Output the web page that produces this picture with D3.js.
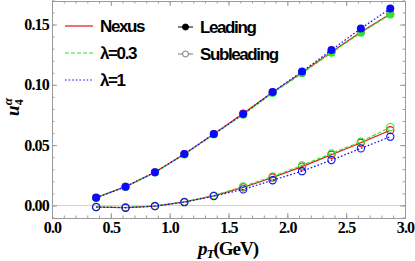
<!DOCTYPE html>
<html><head><meta charset="utf-8">
<script src="https://cdn.jsdelivr.net/npm/d3@7"></script>
<style>
body{margin:0;background:#fff;}
svg{display:block;}
.tick text{font-family:"Liberation Serif",serif;font-weight:bold;font-size:16px;letter-spacing:-0.8px;fill:#000;}
.leg{font-family:"Liberation Sans",sans-serif;font-weight:bold;font-size:17px;letter-spacing:-1.4px;}
</style></head>
<body><svg id="c" width="415" height="261"></svg>
<script>
const pt = [0.375,0.625,0.875,1.125,1.375,1.625,1.875,2.125,2.375,2.625,2.875];
const nexusLead = [0.0065,0.0156,0.0275,0.0426,0.0592,0.0762,0.0938,0.1102,0.1272,0.1437,0.1588];
const lam03Lead = [0.0064,0.0155,0.0273,0.0423,0.0589,0.0753,0.0932,0.1095,0.1266,0.1432,0.1584];
const lam1Lead  = [0.0064,0.0155,0.0275,0.0427,0.0592,0.0758,0.0940,0.1110,0.1288,0.1467,0.1633];
const nexusSub = [-0.0013,-0.0018,-0.0005,0.0030,0.0080,0.0150,0.0232,0.0322,0.0420,0.0520,0.0624];
const lam03Sub = [-0.0012,-0.0017,-0.0004,0.0030,0.0082,0.0157,0.0240,0.0332,0.0431,0.0528,0.0649];
const lam1Sub  = [-0.0014,-0.0019,-0.0006,0.0027,0.0077,0.0133,0.0209,0.0284,0.0376,0.0473,0.0570];
const xTicks = [0,0.5,1,1.5,2,2.5,3];
const yTicks = [0,0.05,0.10,0.15];
const seriesNames = ["Nexus","λ=0.3","λ=1"];

const series = [
  {name:seriesNames[0], lead:nexusLead, sub:nexusSub, color:"#e81010", dash:null},
  {name:seriesNames[1], lead:lam03Lead, sub:lam03Sub, color:"#2ee62e", dash:"4,2"},
  {name:seriesNames[2], lead:lam1Lead, sub:lam1Sub, color:"#0a0aff", dash:"1.6,2"}
];

const svg = d3.select("#c");
const L=52, R=405, T=1, B=218;
const x = d3.scaleLinear().domain([0,3]).range([L,R]);
const y = d3.scaleLinear().domain([-0.0104,0.1695]).range([B,T]);
const frameCol = "#9a9a9a";

svg.append("line").attr("x1",L).attr("x2",R).attr("y1",y(0)).attr("y2",y(0))
  .attr("stroke","#d0d0d0").attr("stroke-width",1);

function styleAxis(g){
  g.select(".domain").attr("stroke",frameCol);
  g.selectAll(".tick line").attr("stroke",frameCol);
}
const xMinor = d3.range(0,3.0001,0.1);
const yMinor = d3.range(-0.01,0.1701,0.01);

svg.append("g").attr("transform",`translate(0,${B})`).call(d3.axisBottom(x).tickValues(xMinor).tickSize(-2.5).tickFormat("")).call(styleAxis);
svg.append("g").attr("transform",`translate(0,${T})`).call(d3.axisTop(x).tickValues(xMinor).tickSize(-2.5).tickFormat("")).call(styleAxis);
svg.append("g").attr("transform",`translate(${L},0)`).call(d3.axisLeft(y).tickValues(yMinor).tickSize(-2.5).tickFormat("")).call(styleAxis);
svg.append("g").attr("transform",`translate(${R},0)`).call(d3.axisRight(y).tickValues(yMinor).tickSize(-2.5).tickFormat("")).call(styleAxis);
svg.append("g").attr("transform",`translate(0,${B})`).call(d3.axisBottom(x).tickValues(xTicks).tickSize(-5).tickPadding(4).tickFormat(d3.format(".1f"))).call(styleAxis);
svg.append("g").attr("transform",`translate(0,${T})`).call(d3.axisTop(x).tickValues(xTicks).tickSize(-5).tickFormat("")).call(styleAxis);
svg.append("g").attr("transform",`translate(${L},0)`).call(d3.axisLeft(y).tickValues(yTicks).tickSize(-5).tickPadding(3).tickFormat(d3.format(".2f"))).call(styleAxis);
svg.append("g").attr("transform",`translate(${R},0)`).call(d3.axisRight(y).tickValues(yTicks).tickSize(-5).tickFormat("")).call(styleAxis);

const line = d3.line().x((d,i)=>x(pt[i])).y(d=>y(d));
series.forEach(s=>{
  ["lead","sub"].forEach(k=>{
    svg.append("path").datum(s[k]).attr("d",line).attr("fill","none")
      .attr("stroke",s.color).attr("stroke-width",1.2).attr("stroke-dasharray",s.dash);
  });
  svg.append("g").selectAll("circle").data(s.lead).join("circle")
    .attr("cx",(d,i)=>x(pt[i])).attr("cy",d=>y(d)).attr("r",4).attr("fill",s.color);
  svg.append("g").selectAll("circle").data(s.sub).join("circle")
    .attr("cx",(d,i)=>x(pt[i])).attr("cy",d=>y(d)).attr("r",3.6).attr("fill","none")
    .attr("stroke",s.color).attr("stroke-width",1.1);
});

const legY = [26,53,80];
series.forEach((s,i)=>{
  svg.append("line").attr("x1",65).attr("x2",93).attr("y1",legY[i]).attr("y2",legY[i])
    .attr("stroke",s.color).attr("stroke-width",1.2).attr("stroke-dasharray",s.dash);
  svg.append("text").attr("class","leg").attr("x",100).attr("y",legY[i]).attr("dy","0.36em").text(s.name);
});
const mk = [{t:"Leading",c:"#000",fill:true},{t:"Subleading",c:"#777",fill:false}];
mk.forEach((m,i)=>{
  const yy = legY[i]+1;
  svg.append("line").attr("x1",178).attr("x2",193).attr("y1",yy).attr("y2",yy).attr("stroke",m.c).attr("stroke-width",1);
  svg.append("circle").attr("cx",185.5).attr("cy",yy).attr("r",3)
    .attr("fill",m.fill?m.c:"#fff").attr("stroke",m.c).attr("stroke-width",1);
  svg.append("text").attr("class","leg").attr("x",200).attr("y",yy).attr("dy","0.36em").text(m.t);
});

const xl = svg.append("text").attr("x",228).attr("y",255).attr("text-anchor","middle")
  .style("font-family","Liberation Serif,serif").style("font-weight","bold").style("font-size","19px").style("letter-spacing","-1px");
xl.append("tspan").style("font-style","italic").text("p");
xl.append("tspan").style("font-style","italic").style("font-size","13px").attr("dy",3).text("T");
xl.append("tspan").attr("dy",-3).text("(GeV)");

const yl = svg.append("text").attr("transform","translate(19,107) rotate(-90)").attr("text-anchor","middle")
  .style("font-family","Liberation Serif,serif").style("font-weight","bold").style("font-size","19px");
yl.append("tspan").style("font-style","italic").text("u");
yl.append("tspan").style("font-size","12px").attr("dy",4).text("4");
yl.append("tspan").style("font-style","italic").style("font-size","13px").attr("dx",-6).attr("dy",-11).text("α");
</script></body></html>
